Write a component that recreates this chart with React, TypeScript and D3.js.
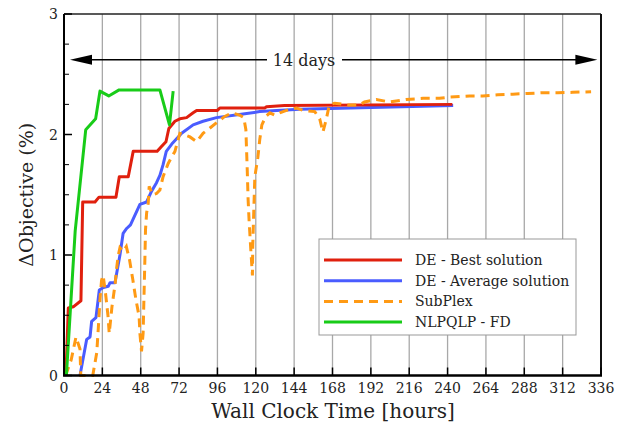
import React from 'react';
import * as d3 from 'd3';

// hours vs delta objective (%)
const xTicks = [0, 24, 48, 72, 96, 120, 144, 168, 192, 216, 240, 264, 288, 312, 336];
const yTicks = [0, 1, 2, 3];
const yMinor = [0.25, 0.5, 0.75, 1.25, 1.5, 1.75, 2.25, 2.5, 2.75];

const deBest: [number, number][] = [
  [1.2, 0], [2.7, 0.56], [5.8, 0.57], [10.6, 0.62], [11.7, 1.44], [19.4, 1.44], [21.9, 1.48],
  [32.5, 1.48], [34.6, 1.65], [40.2, 1.65], [43.3, 1.86], [58.3, 1.86], [61, 1.9], [63.8, 1.94],
  [65.6, 2.05], [69.4, 2.11], [72.5, 2.13], [76.7, 2.14], [80.8, 2.18], [83, 2.2], [96, 2.2],
  [97.5, 2.22], [125.6, 2.22], [126.7, 2.23], [138, 2.24], [243, 2.25],
];

const deAvg: [number, number][] = [
  [10, 0], [14.2, 0.3], [16.3, 0.32], [17.3, 0.45], [20, 0.48], [22.1, 0.71], [24.6, 0.73],
  [27.7, 0.74], [28.8, 0.77], [31.9, 0.77], [35, 1.0], [37, 1.18], [39.2, 1.22], [41.6, 1.25],
  [47.5, 1.42], [51.7, 1.44], [54.8, 1.53], [57.9, 1.6], [60, 1.66], [62, 1.75], [64, 1.86],
  [68, 1.93], [73.6, 2.01], [80.8, 2.08], [87, 2.11], [95.4, 2.14], [112, 2.17], [122.5, 2.19],
  [133, 2.2], [147.5, 2.21], [243.5, 2.24],
];

const subPlex: [number, number][] = [
  [1, 0], [4.5, 0.13], [7.5, 0.32], [10, 0.22], [10.5, 0], [18, 0], [20.5, 0.19], [21.5, 0.4],
  [22.5, 0.63], [23.5, 0.79], [24.5, 0.83], [26, 0.68], [27.5, 0.5], [28.3, 0.35], [30, 0.57],
  [32, 0.76], [33, 0.9], [34, 1.0], [35, 1.06], [37, 1.03], [39, 1.07], [41, 0.96], [43, 0.8],
  [45, 0.63], [47, 0.49], [47.5, 0.35], [48.5, 0.2], [49.5, 0.35], [50, 0.63], [50.6, 0.96],
  [51, 1.21], [51.7, 1.35], [52.7, 1.43], [53.3, 1.57], [55.4, 1.5], [57.9, 1.51], [60, 1.54],
  [62, 1.65], [65.2, 1.76], [69.4, 1.86], [72.5, 2.01], [75, 2.0], [78.8, 1.98], [83, 1.94],
  [87, 2.01], [91, 2.05], [95.6, 2.1], [100.6, 2.15], [105, 2.18], [110, 2.16], [112.5, 2.14],
  [113.8, 2.04], [114.6, 1.73], [115.2, 1.46], [115.8, 1.29], [116.9, 1.04], [117.9, 0.83],
  [118.1, 1.08], [119.4, 1.65], [121.3, 1.81], [122.5, 1.96], [123.8, 2.08], [126.3, 2.15],
  [128.8, 2.18], [131.9, 2.16], [135, 2.18], [139.2, 2.2], [145.4, 2.22], [149.6, 2.2],
  [156.9, 2.19], [160, 2.13], [162, 2.02], [164, 2.12], [166, 2.245], [169.4, 2.26],
  [177.7, 2.245], [185, 2.245], [188, 2.27], [195.4, 2.29], [203.8, 2.27], [214, 2.29],
  [224.6, 2.3], [235, 2.3], [241, 2.31], [253.8, 2.32], [262, 2.32], [271.4, 2.33],
  [280.8, 2.335], [290, 2.34], [299.6, 2.347], [309, 2.347], [318.3, 2.35], [329.8, 2.355],
];

const nlpqlp: [number, number][] = [
  [1.5, 0], [7, 1.2], [13.6, 2.04], [19.8, 2.13], [22.5, 2.36], [28, 2.32], [34.5, 2.37],
  [60, 2.37], [66, 2.08], [68.3, 2.36],
];

const legendLabels = ['DE - Best solution', 'DE - Average solution', 'SubPlex', 'NLPQLP - FD'];
const legendColors = ['#e0200e', '#4a5cff', '#ff9a14', '#18cc18'];

const W = 625;
const H = 426;
const font = "'DejaVu Serif', serif";

export default function App() {
  const x = d3.scaleLinear().domain([0, 336]).range([64, 601]);
  const y = d3.scaleLinear().domain([0, 3]).range([375.5, 14]);
  const line = d3.line<[number, number]>().x(d => x(d[0])).y(d => y(d[1]));

  const [x0, x1] = x.range();
  const [y0, y1] = y.range();
  const arrowY = y(2.62);
  const legend = { left: 319, top: 239, width: 257, height: 96 };
  const txt = { fontFamily: font, fill: '#222' };

  return (
    <svg width={W} height={H} style={{ position: 'absolute', left: 0, top: 0, background: '#fff' }}>
      {/* vertical grid */}
      {xTicks.slice(1, -1).map(t => (
        <line key={t} x1={x(t)} x2={x(t)} y1={y1} y2={y0} stroke="#a8a8a8" strokeWidth={1.3} />
      ))}

      {/* series */}
      <path d={line(deAvg) ?? ''} fill="none" stroke={legendColors[1]} strokeWidth={3} strokeLinejoin="round" />
      <path d={line(deBest) ?? ''} fill="none" stroke={legendColors[0]} strokeWidth={3} strokeLinejoin="round" />
      <path d={line(subPlex) ?? ''} fill="none" stroke={legendColors[2]} strokeWidth={3} strokeDasharray="9,6" />
      <path d={line(nlpqlp) ?? ''} fill="none" stroke={legendColors[3]} strokeWidth={3} strokeLinejoin="round" />

      {/* frame */}
      <line x1={x0} x2={x1} y1={y1} y2={y1} stroke="#222" strokeWidth={1.5} />
      <line x1={x1} x2={x1} y1={y1} y2={y0} stroke="#111" strokeWidth={2} />
      <line x1={x0} x2={x0} y1={y1} y2={y0} stroke="#000" strokeWidth={2} />
      <line x1={x0 - 1} x2={x1 + 1} y1={y0} y2={y0} stroke="#000" strokeWidth={2.5} />

      {/* ticks */}
      {xTicks.map(t => (
        <g key={t}>
          <line x1={x(t)} x2={x(t)} y1={y0} y2={y0 - 8} stroke="#000" strokeWidth={1.5} />
          <text x={x(t)} y={393} textAnchor="middle" fontSize={14} {...txt}>{t}</text>
        </g>
      ))}
      {yTicks.map(t => (
        <g key={t}>
          <line x1={x0} x2={x0 + 8} y1={y(t)} y2={y(t)} stroke="#000" strokeWidth={1.5} />
          <text x={58} y={y(t) + 5} textAnchor="end" fontSize={14} {...txt}>{t}</text>
        </g>
      ))}
      {yMinor.map(t => (
        <line key={t} x1={x0} x2={x0 + 5} y1={y(t)} y2={y(t)} stroke="#000" strokeWidth={1} />
      ))}

      {/* 14 days arrow */}
      <line x1={x(3.75) + 18} x2={267} y1={arrowY} y2={arrowY} stroke="#000" strokeWidth={1.5} />
      <line x1={342} x2={x(333.75) - 18} y1={arrowY} y2={arrowY} stroke="#000" strokeWidth={1.5} />
      <path d={`M${x(3.75)},${arrowY} L${x(3.75) + 22},${arrowY - 5} L${x(3.75) + 22},${arrowY + 5} Z`} fill="#000" />
      <path d={`M${x(333.75)},${arrowY} L${x(333.75) - 22},${arrowY - 5} L${x(333.75) - 22},${arrowY + 5} Z`} fill="#000" />
      <text x={304} y={arrowY + 6} textAnchor="middle" fontSize={16} {...txt}>14 days</text>

      {/* legend */}
      <rect x={legend.left} y={legend.top} width={legend.width} height={legend.height} fill="#fff" stroke="#999" strokeWidth={1} />
      {legendLabels.map((label, i) => {
        const ly = legend.top + 21 + i * 20.7;
        return (
          <g key={label}>
            <line x1={324} x2={402} y1={ly} y2={ly} stroke={legendColors[i]} strokeWidth={3}
              strokeDasharray={i === 2 ? '9,6' : undefined} />
            <text x={415} y={ly + 5} fontSize={14} {...txt}>{label}</text>
          </g>
        );
      })}

      {/* axis titles */}
      <text x={333} y={418} textAnchor="middle" fontSize={20} {...txt}>Wall Clock Time [hours]</text>
      <text transform={`translate(33,${(y0 + y1) / 2}) rotate(-90)`} textAnchor="middle" fontSize={19} {...txt}>ΔObjective (%)</text>
    </svg>
  );
}
